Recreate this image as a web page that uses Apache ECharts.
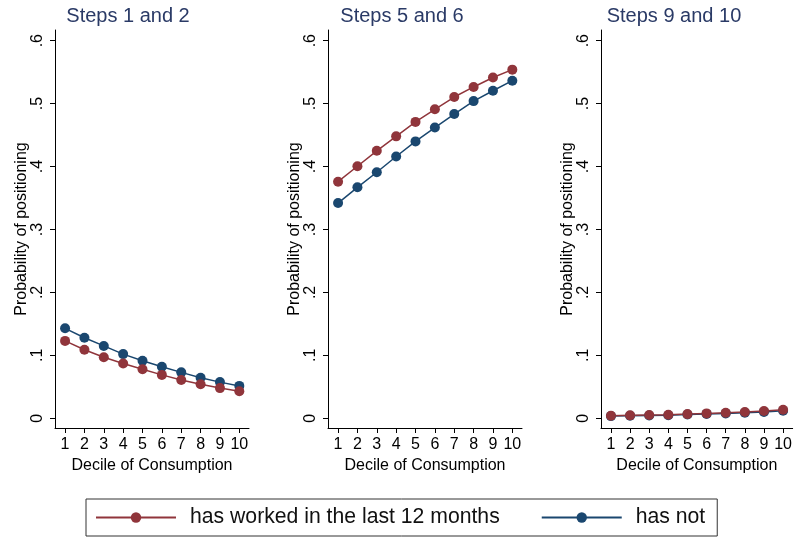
<!DOCTYPE html>
<html><head><meta charset="utf-8">
<script src="https://cdn.jsdelivr.net/npm/echarts@6/dist/echarts.min.js"></script>
<style>html,body{margin:0;padding:0;background:#fff}#c{width:795px;height:538px}</style>
</head><body><div id="c"></div>
<script>
const deciles = [1, 2, 3, 4, 5, 6, 7, 8, 9, 10];
const panelTitles = ['Steps 1 and 2', 'Steps 5 and 6', 'Steps 9 and 10'];
const seriesNames = ['has worked in the last 12 months', 'has not'];
const workedSteps12 = [0.123, 0.109, 0.097, 0.087, 0.078, 0.069, 0.061, 0.054, 0.048, 0.043];
const notSteps12 = [0.143, 0.128, 0.115, 0.102, 0.0915, 0.082, 0.073, 0.0645, 0.0575, 0.0515];
const workedSteps56 = [0.376, 0.4005, 0.425, 0.448, 0.471, 0.491, 0.5105, 0.5265, 0.5415, 0.554];
const notSteps56 = [0.342, 0.367, 0.391, 0.416, 0.440, 0.462, 0.4835, 0.504, 0.5205, 0.5365];
const workedSteps910 = [0.004, 0.0047, 0.0052, 0.0057, 0.0067, 0.0078, 0.0089, 0.0100, 0.0116, 0.0136];
const notSteps910 = [0.0035, 0.004, 0.0045, 0.005, 0.006, 0.007, 0.0078, 0.0088, 0.0102, 0.012];
const yTicks = [0, 0.1, 0.2, 0.3, 0.4, 0.5, 0.6];
const yTickLabels = ['0', '.1', '.2', '.3', '.4', '.5', '.6'];
const xAxisName = 'Decile of Consumption';
const yAxisName = 'Probability of positioning';

const workedData = [workedSteps12, workedSteps56, workedSteps910];
const notData = [notSteps12, notSteps56, notSteps910];

const FONT = 'Liberation Sans, Arial, Helvetica, sans-serif';
const RED = '#90353b';
const BLUE = '#1a476f';
const gridLefts = [55, 328, 601];
const titleCenters = [128, 402, 674];

const grids = [], xAxes = [], yAxes = [], series = [], graphics = [];
for (let i = 0; i < 3; i++) {
  grids.push({ left: gridLefts[i], top: 30, width: 194, height: 398, containLabel: false });
  xAxes.push({
    type: 'value', gridIndex: i, min: 0.48, max: 10.5,
    name: xAxisName, nameLocation: 'middle', nameGap: 26,
    nameTextStyle: { fontFamily: FONT, fontSize: 16, color: '#000' },
    axisLine: { show: true, onZero: false, lineStyle: { color: '#000', width: 1 } },
    axisTick: { show: true, length: 5, customValues: deciles, lineStyle: { color: '#000' } },
    axisLabel: { customValues: deciles, fontFamily: FONT, fontSize: 16, color: '#000', margin: 9 },
    splitLine: { show: false }
  });
  yAxes.push({
    type: 'value', gridIndex: i, min: -0.0154, max: 0.617,
    name: yAxisName, nameLocation: 'middle', nameGap: 25, nameRotate: 90,
    nameTextStyle: { fontFamily: FONT, fontSize: 16, color: '#000' },
    axisLine: { show: true, onZero: false, lineStyle: { color: '#000', width: 1 } },
    axisTick: { show: true, length: 5, customValues: yTicks, lineStyle: { color: '#000' } },
    axisLabel: {
      customValues: yTicks, rotate: 90, fontFamily: FONT, fontSize: 16, color: '#000', margin: 9,
      formatter: v => { const k = yTicks.findIndex(t => Math.abs(t - v) < 1e-9); return k >= 0 ? yTickLabels[k] : ''; }
    },
    splitLine: { show: false }
  });
  series.push({
    name: seriesNames[1], type: 'line', xAxisIndex: i, yAxisIndex: i,
    data: deciles.map((d, j) => [d, notData[i][j]]),
    symbol: 'circle', symbolSize: 10, color: BLUE,
    lineStyle: { color: BLUE, width: 1.5 }, itemStyle: { color: BLUE }, animation: false
  });
  series.push({
    name: seriesNames[0], type: 'line', xAxisIndex: i, yAxisIndex: i,
    data: deciles.map((d, j) => [d, workedData[i][j]]),
    symbol: 'circle', symbolSize: 10, color: RED,
    lineStyle: { color: RED, width: 1.5 }, itemStyle: { color: RED }, animation: false
  });
  graphics.push({
    type: 'text', x: titleCenters[i], y: 16,
    style: { text: panelTitles[i], fontFamily: FONT, fontSize: 20, fill: '#2a3a66', textAlign: 'center', textVerticalAlign: 'middle' }
  });
}

const chart = echarts.init(document.getElementById('c'), null, { renderer: 'canvas' });
chart.setOption({
  animation: false,
  backgroundColor: '#fff',
  grid: grids, xAxis: xAxes, yAxis: yAxes, series: series,
  graphic: graphics,
  legend: {
    data: seriesNames, left: 86, top: 499, orient: 'horizontal',
    itemWidth: 80, itemHeight: 13, itemGap: 41,
    padding: [8, 12, 8, 9],
    borderColor: '#333', borderWidth: 1,
    lineStyle: { width: 2 },
    textStyle: { fontFamily: FONT, fontSize: 21.2, color: '#111', padding: [0, 0, 0, 9] }
  }
});
</script></body></html>
